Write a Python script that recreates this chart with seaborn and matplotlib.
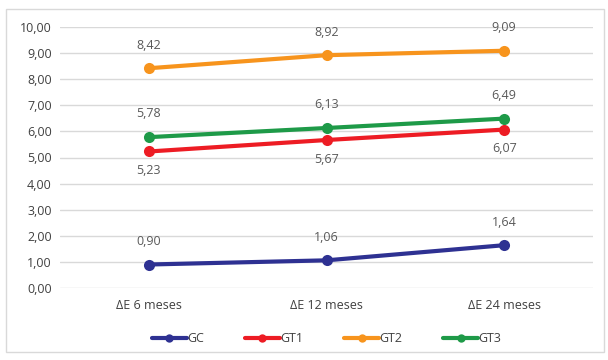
import matplotlib
matplotlib.use("Agg")
import matplotlib.pyplot as plt
from matplotlib.patches import Rectangle
import seaborn as sns
import pandas as pd

categories = ["ΔE 6 meses", "ΔE 12 meses", "ΔE 24 meses"]
gc = [0.90, 1.06, 1.64]
gt1 = [5.23, 5.67, 6.07]
gt2 = [8.42, 8.92, 9.09]
gt3 = [5.78, 6.13, 6.49]
series_names = ["GC", "GT1", "GT2", "GT3"]
yticks = [0, 1, 2, 3, 4, 5, 6, 7, 8, 9, 10]

colors = {"GC": "#2E3192", "GT1": "#ED1C24", "GT2": "#F7941D", "GT3": "#1E9A48"}
label_below = {"GT1"}

rows = []
for name, vals in zip(series_names, [gc, gt1, gt2, gt3]):
    for i, v in enumerate(vals):
        rows.append({"cat": i, "valor": v, "serie": name})
df = pd.DataFrame(rows)

sns.set_theme(style="white")
plt.rcParams["font.family"] = ["Open Sans", "DejaVu Sans"]

fig = plt.figure(figsize=(6.08, 3.6), dpi=100)
ax = fig.add_axes([60 / 608, 1 - 288 / 360, 533 / 608, 261 / 360])

sns.lineplot(data=df, x="cat", y="valor", hue="serie", palette=colors,
             marker="o", markersize=8, markeredgewidth=0, linewidth=3,
             ax=ax, legend=True)

for name, vals in zip(series_names, [gc, gt1, gt2, gt3]):
    for i, v in enumerate(vals):
        off = -9 if name in label_below else 12
        ax.annotate(f"{v:.2f}".replace(".", ","), (i, v), xytext=(0, off),
                    textcoords="offset points", ha="center",
                    va="top" if off < 0 else "bottom",
                    fontsize=9, color="#595959")

ax.set_xlim(-0.5, 2.5)
ax.set_ylim(0, 10)
ax.set_yticks(yticks)
ax.set_yticklabels([f"{t:.2f}".replace(".", ",") for t in yticks],
                   fontsize=9, color="#404040")
ax.set_xticks(range(len(categories)))
ax.set_xticklabels(categories, fontsize=9, color="#404040")
ax.tick_params(axis="both", length=0, pad=6)
ax.tick_params(axis="x", pad=8)
ax.set_xlabel("")
ax.set_ylabel("")
ax.grid(axis="y", color="#D9D9D9", linewidth=1)
ax.set_axisbelow(True)
for s in ax.spines.values():
    s.set_visible(False)

handles, labels = ax.get_legend_handles_labels()
leg = ax.legend(handles, labels, loc="center", bbox_to_anchor=(0.5, -0.195),
                ncol=4, frameon=False, fontsize=9, handlelength=2.8,
                columnspacing=3.3, handletextpad=0.0, labelcolor="#404040")
for h in leg.legend_handles:
    h.set_markersize(6)

fig.patches.append(Rectangle((6 / 608, 1 - 352 / 360), 598 / 608, 343 / 360,
                             transform=fig.transFigure, fill=False,
                             edgecolor="#D9D9D9", linewidth=1))

fig.savefig("out.png", dpi=100)
